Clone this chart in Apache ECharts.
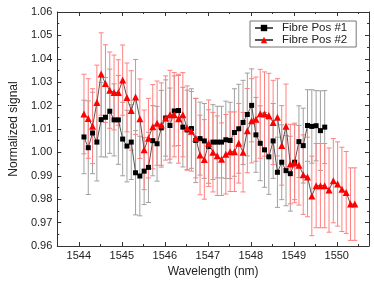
<!DOCTYPE html>
<html><head><meta charset="utf-8">
<script src="https://cdn.jsdelivr.net/npm/echarts@6/dist/echarts.min.js"></script>
<style>html,body{margin:0;padding:0;background:#fff}#c{width:374px;height:288px}</style>
</head><body><div id="c"></div>
<script>
const wavelength = [
 1544.12,1544.22,1544.32,1544.42,1544.52,1544.62,1544.72,1544.82,1544.92,1545.02,
 1545.12,1545.22,1545.32,1545.42,1545.52,1545.62,1545.72,1545.82,1545.92,1546.02,
 1546.12,1546.22,1546.32,1546.42,1546.52,1546.62,1546.72,1546.82,1546.92,1547.02,
 1547.12,1547.22,1547.32,1547.42,1547.52,1547.62,1547.72,1547.82,1547.92,1548.02,
 1548.12,1548.22,1548.32,1548.42,1548.52,1548.62,1548.72,1548.82,1548.92,1549.02,
 1549.12,1549.22,1549.32,1549.42,1549.52,1549.62,1549.72,1549.82,1549.92,1550.02,
 1550.12,1550.22,1550.32,1550.42];
const pos1 = [
 1.0066,1.0020,1.0083,1.0044,1.0140,1.0150,1.0176,1.0139,1.0139,1.0057,
 1.0027,1.0044,0.9913,0.9899,0.9920,0.9936,1.0050,1.0037,1.0105,1.0147,
 1.0115,1.0177,1.0179,1.0108,1.0096,1.0102,1.0051,1.0059,1.0049,1.0025,
 1.0044,1.0044,1.0044,1.0054,1.0051,1.0085,1.0101,1.0128,1.0162,1.0201,
 1.0075,1.0039,1.0011,0.9981,1.0049,0.9915,0.9958,0.9922,0.9909,0.9958,
 1.0046,1.0029,1.0115,1.0111,1.0114,1.0093,1.0108];
const pos1Err = [
 0.0157,0.0200,0.0174,0.0166,0.0159,0.0170,0.0180,0.0154,0.0190,0.0157,
 0.0153,0.0160,0.0180,0.0170,0.0143,0.0150,0.0150,0.0160,0.0160,0.0163,
 0.0160,0.0150,0.0150,0.0170,0.0170,0.0170,0.0180,0.0156,0.0160,0.0157,
 0.0160,0.0153,0.0153,0.0165,0.0163,0.0187,0.0190,0.0180,0.0177,0.0156,
 0.0160,0.0160,0.0160,0.0160,0.0160,0.0150,0.0160,0.0150,0.0160,0.0160,
 0.0153,0.0160,0.0153,0.0157,0.0150,0.0170,0.0156];
const pos2 = [
 1.0164,1.0145,1.0112,1.0213,1.0335,1.0294,1.0266,1.0256,1.0256,1.0309,
 1.0235,1.0179,1.0237,1.0144,1.0011,1.0061,1.0110,1.0125,1.0117,1.0147,
 1.0161,1.0161,1.0144,1.0161,1.0104,1.0090,1.0061,0.9989,0.9970,1.0039,
 1.0001,0.9986,0.9971,0.9992,1.0003,1.0003,1.0039,1.0001,1.0093,1.0135,
 1.0142,1.0165,1.0164,1.0158,1.0128,1.0150,1.0030,1.0112,0.9950,0.9955,
 0.9945,0.9905,0.9895,0.9814,0.9858,0.9858,0.9858,0.9839,0.9879,0.9865,
 0.9842,0.9829,0.9779,0.9779];
const pos2Err = [
 0.0170,0.0170,0.0160,0.0160,0.0176,0.0166,0.0163,0.0160,0.0140,0.0150,
 0.0147,0.0170,0.0160,0.0170,0.0170,0.0170,0.0180,0.0180,0.0180,0.0180,
 0.0190,0.0180,0.0190,0.0180,0.0180,0.0170,0.0170,0.0170,0.0170,0.0185,
 0.0170,0.0170,0.0155,0.0170,0.0170,0.0170,0.0170,0.0170,0.0180,0.0180,
 0.0180,0.0190,0.0180,0.0180,0.0180,0.0165,0.0170,0.0180,0.0170,0.0170,
 0.0170,0.0170,0.0170,0.0170,0.0180,0.0180,0.0180,0.0180,0.0180,0.0180,
 0.0180,0.0175,0.0155,0.0155];
const xMajorTicks = [1544,1545,1546,1547,1548,1549,1550];
const xMinorTicks = [1544.5,1545.5,1546.5,1547.5,1548.5,1549.5,1550.5];
const seriesNames = ['Fibre Pos #1','Fibre Pos #2'];

const FONT = 'Liberation Sans, Arial, sans-serif';
const XMIN = 1543.5, XMAX = 1550.75;

function errSeries(vals, errs, color) {
  return {
    type: 'custom', silent: true, z: 1, xAxisIndex: 0, yAxisIndex: 0,
    data: vals.map((v, i) => [wavelength[i], v - errs[i], v + errs[i]]),
    encode: { x: 0, y: [1, 2] },
    renderItem: function (params, api) {
      const x = api.value(0), lo = api.value(1), hi = api.value(2);
      const p1 = api.coord([x, hi]), p2 = api.coord([x, lo]);
      const hw = 2.5;
      const st = { stroke: color, lineWidth: 1 };
      return { type: 'group', children: [
        { type: 'line', shape: { x1: p1[0], y1: p1[1], x2: p2[0], y2: p2[1] }, style: st },
        { type: 'line', shape: { x1: p1[0] - hw, y1: p1[1], x2: p1[0] + hw, y2: p1[1] }, style: st },
        { type: 'line', shape: { x1: p2[0] - hw, y1: p2[1], x2: p2[0] + hw, y2: p2[1] }, style: st }
      ]};
    }
  };
}

const axisColor = '#333';
function xAx(pos, major, showLine, showLabel) {
  return {
    type: 'value', position: pos, min: XMIN, max: XMAX,
    axisLine: { show: showLine, onZero: false, lineStyle: { color: axisColor, width: 1 } },
    axisTick: { show: true, inside: true, length: major ? 4 : 2, customValues: major ? xMajorTicks : xMinorTicks, lineStyle: { color: axisColor } },
    axisLabel: showLabel ? { show: true, customValues: xMajorTicks, margin: 4, fontSize: 11, color: '#222', fontFamily: FONT,
      formatter: v => String(Math.round(v)) } : { show: false },
    splitLine: { show: false },
    name: showLabel ? 'Wavelength (nm)' : '',
    nameLocation: 'middle', nameGap: 20,
    nameTextStyle: { fontSize: 12, color: '#222', fontFamily: FONT }
  };
}
function yAx(pos, showLabel) {
  return {
    type: 'value', position: pos, min: 0.96, max: 1.06, interval: 0.01,
    axisLine: { show: true, onZero: false, lineStyle: { color: axisColor, width: 1 } },
    axisTick: { show: true, inside: true, length: 4, lineStyle: { color: axisColor } },
    minorTick: { show: true, splitNumber: 2, length: 2, lineStyle: { color: axisColor } },
    axisLabel: showLabel ? { show: true, margin: 5, fontSize: 11, color: '#222', fontFamily: FONT,
      formatter: v => v.toFixed(2) } : { show: false },
    splitLine: { show: false },
    name: showLabel ? 'Normalized signal' : '',
    nameLocation: 'middle', nameGap: 33, nameRotate: 90,
    nameTextStyle: { fontSize: 12, color: '#222', fontFamily: FONT }
  };
}

const chart = echarts.init(document.getElementById('c'), null, { renderer: 'canvas' });
chart.setOption({
  animation: false,
  backgroundColor: '#fff',
  grid: { left: 52, right: 5, top: 12, bottom: 42, containLabel: false },
  xAxis: [xAx('bottom', true, true, true), xAx('bottom', false, false, false),
          xAx('top', true, true, false), xAx('top', false, false, false)],
  yAxis: [yAx('left', true), yAx('right', false)],
  legend: {
    data: seriesNames, orient: 'vertical', left: 250, top: 21,
    itemWidth: 18, itemHeight: 8, itemGap: 0,
    padding: [1, 9, 1, 4],
    borderColor: '#777', borderWidth: 1, backgroundColor: '#fff',
    textStyle: { fontSize: 11.5, color: '#222', fontFamily: FONT, padding: [0, 0, 0, 4] }
  },
  series: [
    errSeries(pos1, pos1Err, '#a0a0a0'),
    errSeries(pos2, pos2Err, '#ff8080'),
    {
      name: seriesNames[0], type: 'line', z: 3,
      data: pos1.map((v, i) => [wavelength[i], v]),
      symbol: 'rect', symbolSize: 5, showAllSymbol: true,
      itemStyle: { color: '#000' },
      lineStyle: { color: '#555', width: 1 }
    },
    {
      name: seriesNames[1], type: 'line', z: 4,
      data: pos2.map((v, i) => [wavelength[i], v]),
      symbol: 'triangle', symbolSize: 7, showAllSymbol: true,
      itemStyle: { color: '#ff0000' },
      lineStyle: { color: '#555', width: 1 }
    }
  ]
});
</script>
</body></html>
